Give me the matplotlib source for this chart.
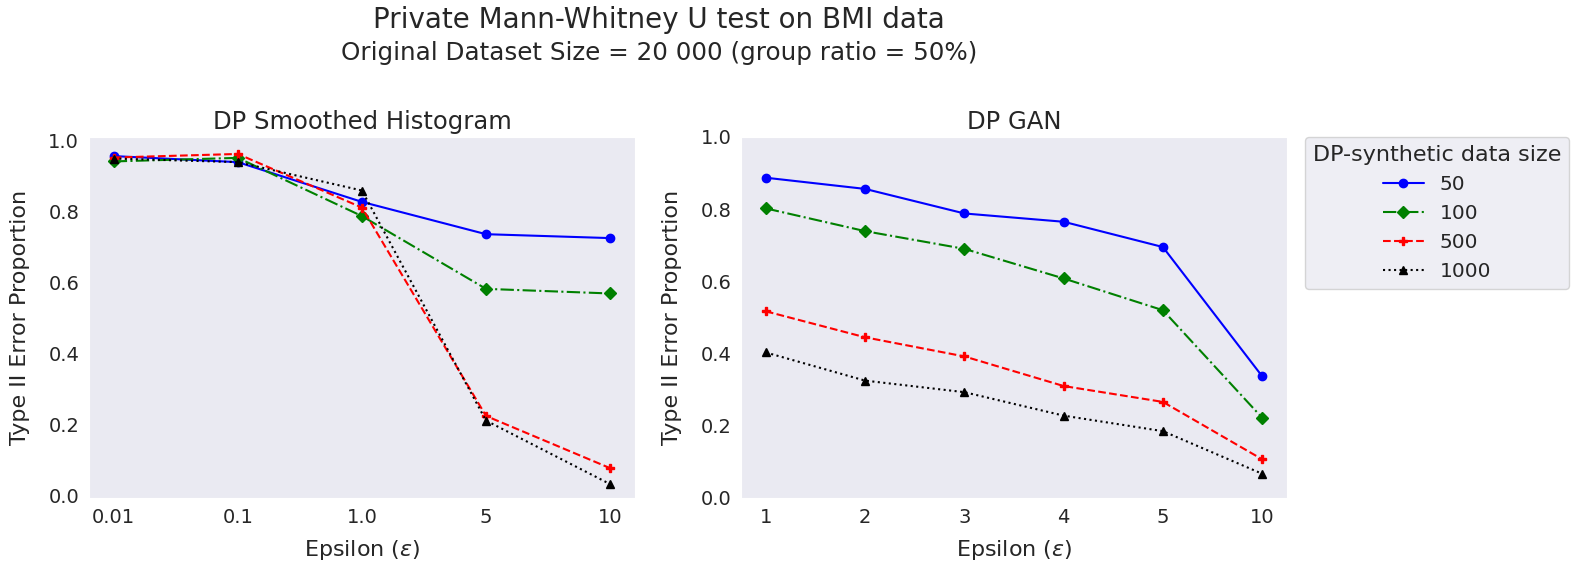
import matplotlib
matplotlib.use("Agg")
import matplotlib.pyplot as plt
import seaborn as sns

# seaborn dark style, no grid
sns.set_style("dark")
plt.rcParams['font.family'] = ['DejaVu Sans']

# data
sizes = ["50", "100", "500", "1000"]
hist_eps = ["0.01", "0.1", "1.0", "5", "10"]
gan_eps = ["1", "2", "3", "4", "5", "10"]

hist_50 = [0.957, 0.940, 0.828, 0.737, 0.726]
hist_100 = [0.942, 0.952, 0.788, 0.583, 0.570]
hist_500 = [0.953, 0.963, 0.812, 0.225, 0.078]
hist_1000 = [0.950, 0.940, 0.860, 0.212, 0.033]

gan_50 = [0.887, 0.856, 0.788, 0.765, 0.695, 0.337]
gan_100 = [0.802, 0.739, 0.690, 0.608, 0.520, 0.222]
gan_500 = [0.517, 0.445, 0.392, 0.310, 0.266, 0.107]
gan_1000 = [0.403, 0.325, 0.293, 0.228, 0.185, 0.067]

# line styles for each synthetic data size
styles = [("blue", "-", "o"), ("green", "-.", "D"), ("red", "--", "P"), ("black", ":", "^")]

fig = plt.figure(figsize=(15.77, 5.77), dpi=100)
ax1 = fig.add_axes([0.0564, 0.137, 0.3462, 0.6257])
ax2 = fig.add_axes([0.4699, 0.137, 0.3462, 0.6257])

# left panel
for vals, lab, (c, ls, m) in zip([hist_50, hist_100, hist_500, hist_1000], sizes, styles):
    ax1.plot(range(len(hist_eps)), vals, color=c, linestyle=ls, marker=m,
             markersize=6, linewidth=1.5, label=lab)
ax1.set_xticks(range(len(hist_eps)))
ax1.set_xticklabels(hist_eps)
ax1.set_ylim(-0.006, 1.011)
ax1.set_title("DP Smoothed Histogram", fontsize=17.5)

# right panel
for vals, lab, (c, ls, m) in zip([gan_50, gan_100, gan_500, gan_1000], sizes, styles):
    ax2.plot(range(len(gan_eps)), vals, color=c, linestyle=ls, marker=m,
             markersize=6, linewidth=1.5, label=lab)
ax2.set_xticks(range(len(gan_eps)))
ax2.set_xticklabels(gan_eps)
ax2.set_ylim(0.008, 1.0)
ax2.set_title("DP GAN", fontsize=17.5)

for ax in [ax1, ax2]:
    ax.set_xlabel(r"Epsilon ($\varepsilon$)", fontsize=16, labelpad=8)
    ax.set_ylabel("Type II Error Proportion", fontsize=16, labelpad=13)
    ax.set_yticks([0.0, 0.2, 0.4, 0.6, 0.8, 1.0])
    ax.tick_params(labelsize=14)

leg = ax2.legend(title="DP-synthetic data size", loc="upper left",
                 bbox_to_anchor=(1.033, 1.0), borderaxespad=0,
                 fontsize=14.5, title_fontsize=16)

# two-line figure title
fig.text(0.418, 0.965, "Private Mann-Whitney U test on BMI data",
         ha="center", va="center", fontsize=20)
fig.text(0.418, 0.908, "Original Dataset Size = 20 000 (group ratio = 50%)",
         ha="center", va="center", fontsize=17.7)

plt.savefig("out.png", dpi=100)
